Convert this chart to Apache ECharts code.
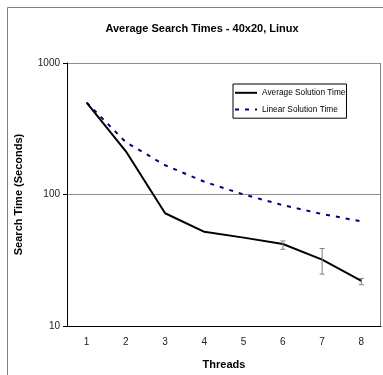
<!DOCTYPE html>
<html>
<head>
<meta charset="utf-8">
<script src="https://cdn.jsdelivr.net/npm/echarts@6/dist/echarts.min.js"></script>
<style>
  html, body {margin: 0; padding: 0; background: #fff;}
  #chart {width: 383px; height: 375px;}
</style>
</head>
<body>
<div id="chart"></div>
<script>
var threads = ['1', '2', '3', '4', '5', '6', '7', '8'];
var avgTime = [500, 213, 72, 52, 47, 42, 32, 22];
var linearTime = [500, 250, 167, 125, 100, 83, 71, 62.5];
// error bars: [thread index, low, high]
var errBars = [[5, 38.3, 44.3], [6, 24.8, 38.8], [7, 20.6, 23.0]];

var font = 'Liberation Sans, Arial, sans-serif';
var myChart = echarts.init(document.getElementById('chart'));

myChart.setOption({
  backgroundColor: '#fff',
  animation: false,
  title: {
    text: 'Average Search Times - 40x20, Linux',
    left: 197, top: 18, textAlign: 'center',
    textStyle: {fontFamily: font, fontSize: 11, fontWeight: 'bold', color: '#000'}
  },
  graphic: [{
    type: 'rect', silent: true, z: -1,
    shape: {x: 7.5, y: 7.5, width: 420, height: 420},
    style: {fill: 'none', stroke: '#808080', lineWidth: 1}
  }, {
    // right edge of plot area
    type: 'line', silent: true,
    shape: {x1: 380.5, y1: 63, x2: 380.5, y2: 327},
    style: {stroke: '#808080', lineWidth: 1}
  }],
  legend: {
    data: ['Average Solution Time', 'Linear Solution Time'],
    orient: 'vertical',
    left: 233, top: 84,
    itemWidth: 22, itemHeight: 12, itemGap: 7,
    padding: [4, 1, 4, 1],
    borderColor: '#000', borderWidth: 1,
    backgroundColor: '#fff',
    itemStyle: {opacity: 0},
    textStyle: {fontFamily: font, fontSize: 8.3, color: '#000'}
  },
  grid: {left: 67, top: 63, right: 2, bottom: 48},
  xAxis: {
    type: 'category',
    data: threads,
    boundaryGap: true,
    name: 'Threads',
    nameLocation: 'middle',
    nameGap: 33,
    nameTextStyle: {fontFamily: font, fontSize: 11, fontWeight: 'bold', color: '#000'},
    axisLine: {lineStyle: {color: '#000', width: 1}},
    axisTick: {length: 4, lineStyle: {color: '#000'}},
    axisLabel: {fontFamily: font, fontSize: 10, color: '#222', margin: 11}
  },
  yAxis: {
    type: 'log',
    logBase: 10,
    min: 10, max: 1000,
    name: 'Search Time (Seconds)',
    nameLocation: 'middle',
    nameGap: 43,
    nameTextStyle: {fontFamily: font, fontSize: 11, fontWeight: 'bold', color: '#000'},
    axisLine: {show: true, lineStyle: {color: '#000', width: 1}},
    axisTick: {show: true, length: 4, lineStyle: {color: '#000'}},
    axisLabel: {
      fontFamily: font, fontSize: 10, color: '#222', margin: 7,
      formatter: function (v) { return String(Math.round(v)); }
    },
    splitLine: {lineStyle: {color: '#8c8c8c', width: 1}},
    minorTick: {show: false}
  },
  series: [
    {
      name: 'Average Solution Time',
      type: 'line',
      data: avgTime,
      symbol: 'none',
      color: '#000',
      lineStyle: {color: '#000', width: 2},
      z: 3
    },
    {
      name: 'Linear Solution Time',
      type: 'line',
      data: linearTime,
      symbol: 'none',
      color: '#000080',
      lineStyle: {color: '#000080', width: 2, type: [4, 6]},
      z: 2
    },
    {
      name: 'err',
      type: 'custom',
      data: errBars,
      z: 4,
      renderItem: function (params, api) {
        var lo = api.coord([api.value(0), api.value(1)]);
        var hi = api.coord([api.value(0), api.value(2)]);
        var w = 2.5;
        var st = {stroke: '#808080', lineWidth: 1};
        return {
          type: 'group',
          children: [
            {type: 'line', shape: {x1: lo[0], y1: lo[1], x2: hi[0], y2: hi[1]}, style: st},
            {type: 'line', shape: {x1: lo[0] - w, y1: lo[1], x2: lo[0] + w, y2: lo[1]}, style: st},
            {type: 'line', shape: {x1: hi[0] - w, y1: hi[1], x2: hi[0] + w, y2: hi[1]}, style: st}
          ]
        };
      }
    }
  ]
});
</script>
</body>
</html>
